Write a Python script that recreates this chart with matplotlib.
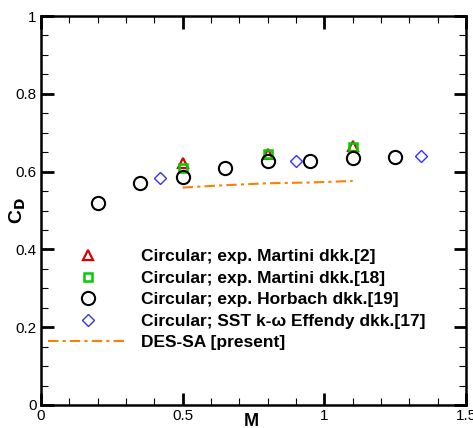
import matplotlib
matplotlib.use("Agg")
import matplotlib.pyplot as plt
from matplotlib.ticker import MultipleLocator

plt.rcParams['font.family'] = ['Liberation Sans', 'DejaVu Sans']

# Data
m_martini2 = [0.5, 0.8, 1.1]
cd_martini2 = [0.621, 0.645, 0.665]
m_martini18 = [0.5, 0.8, 1.1]
cd_martini18 = [0.610, 0.644, 0.663]
m_horbach = [0.2, 0.35, 0.5, 0.65, 0.8, 0.95, 1.1, 1.25]
cd_horbach = [0.518, 0.570, 0.587, 0.608, 0.628, 0.628, 0.635, 0.638]
m_effendy = [0.42, 0.9, 1.34]
cd_effendy = [0.583, 0.628, 0.641]
m_des = [0.5, 0.65, 0.8, 0.95, 1.1]
cd_des = [0.559, 0.565, 0.570, 0.572, 0.576]

labels = ["Circular; exp. Martini dkk.[2]",
          "Circular; exp. Martini dkk.[18]",
          "Circular; exp. Horbach dkk.[19]",
          "Circular; SST k-\u03c9 Effendy dkk.[17]",
          "DES-SA [present]"]

fig = plt.figure(figsize=(4.73, 4.28), dpi=100)
ax = fig.add_axes([41/473, 1-405/428, 425/473, 389/428])

h5, = ax.plot(m_des, cd_des, color='#ff8000', lw=1.5, ls=(0, (5, 2, 1.5, 2)), label=labels[4])
h1, = ax.plot(m_martini2, cd_martini2, ls='none', marker='^', ms=6.5, mfc='none', mec='#dd0000', mew=1.6, label=labels[0])
h2, = ax.plot(m_martini18, cd_martini18, ls='none', marker='s', ms=6, mfc='none', mec='#00cc00', mew=1.8, label=labels[1])
h3, = ax.plot(m_horbach, cd_horbach, ls='none', marker='o', ms=9.5, mfc='none', mec='black', mew=1.5, label=labels[2])
h4, = ax.plot(m_effendy, cd_effendy, ls='none', marker='D', ms=6.5, mfc='none', mec='#3333ff', mew=1.0, label=labels[3])

ax.set_xlim(0, 1.5)
ax.set_ylim(0, 1)
ax.xaxis.set_minor_locator(MultipleLocator(0.1))
ax.yaxis.set_minor_locator(MultipleLocator(0.05))
ax.set_xticks([0, 0.5, 1, 1.5])
ax.set_xticklabels(['0', '0.5', '1', '1.5'])
ax.set_yticks([0, 0.2, 0.4, 0.6, 0.8, 1])
ax.set_yticklabels(['0', '0.2', '0.4', '0.6', '0.8', '1'])
ax.tick_params(which='both', direction='in', top=True, right=True, labelsize=11, width=1.0)
ax.tick_params(which='major', length=9, width=2.0, pad=3)
ax.tick_params(which='minor', length=5, width=0.8)
for s in ax.spines.values():
    s.set_linewidth(1.8)

ax.set_xlabel('M', fontsize=13, fontweight='bold')
ax.xaxis.set_label_coords(0.496, -0.02)
ax.set_ylabel('C$_\\mathbf{D}$', fontsize=14, fontweight='bold')
ax.yaxis.set_label_coords(-0.03, 0.5)

leg = ax.legend([h1, h2, h3, h4, h5], labels, loc='upper left', bbox_to_anchor=(0.0, 0.418),
                frameon=False, prop={'weight': 'bold', 'size': 12.5}, handlelength=4.6,
                handletextpad=0.75, labelspacing=0.36, borderaxespad=0.1, borderpad=0.3)

fig.savefig('out.png', dpi=100)
